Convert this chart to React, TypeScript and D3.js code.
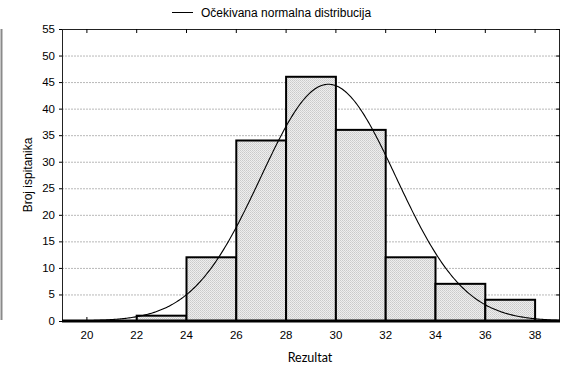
import React from "react";
import * as d3 from "d3";

const binStarts = [22, 24, 26, 28, 30, 32, 34, 36];
const binWidth = 2;
const counts = [1, 12, 34, 46, 36, 12, 7, 4];
const xTicks = [20, 22, 24, 26, 28, 30, 32, 34, 36, 38];
const yTicks = [0, 5, 10, 15, 20, 25, 30, 35, 40, 45, 50, 55];
const fitMean = 29.7;
const fitSd = 2.72;
const legendLabel = "Očekivana normalna distribucija";
const xLabel = "Rezultat";
const yLabel = "Broj ispitanika";

const W = 562, H = 369;
const L = 62, R = 560, T = 29, B = 321;

export default function App() {
  const x = d3.scaleLinear().domain([19, 39]).range([L, R]);
  const y = d3.scaleLinear().domain([0, 55]).range([B, T]);
  const n = d3.sum(counts);
  const pdf = (v: number) =>
    (n * binWidth) / (fitSd * Math.sqrt(2 * Math.PI)) *
    Math.exp(-0.5 * ((v - fitMean) / fitSd) ** 2);
  const pts = d3.range(19, 39.001, 0.05).map((v) => [v, pdf(v)] as [number, number]);
  const line = d3.line<[number, number]>().x((d) => x(d[0])).y((d) => y(d[1])).curve(d3.curveLinear);
  const font = "'Liberation Sans', Arial, sans-serif";

  return (
    <svg width={W} height={H} style={{ position: "absolute", left: 0, top: 0 }}>
      <defs>
        <pattern id="dither" width="2" height="2" patternUnits="userSpaceOnUse">
          <rect width="2" height="2" fill="#eeeeee" />
          <rect width="1" height="1" fill="#cacaca" />
          <rect x="1" y="1" width="1" height="1" fill="#d4d4d4" />
        </pattern>
      </defs>
      <rect width={W} height={H} fill="#fff" />
      <line x1={1.5} x2={1.5} y1={29} y2={320} stroke="#8a8a8a" strokeWidth={2} />
      <line x1={172} x2={193} y1={12.5} y2={12.5} stroke="#000" strokeWidth={1} />
      <text x={201} y={17} fontFamily={font} fontSize={12} fill="#000">{legendLabel}</text>
      {yTicks.filter((t) => t > 0 && t < 55).map((t) => (
        <line key={t} x1={L} x2={R} y1={y(t) + 0.5} y2={y(t) + 0.5} stroke="#b8b8b8" strokeWidth={1} strokeDasharray="2,1" />
      ))}
      {binStarts.map((s, i) => (
        <rect key={s} x={x(s)} y={y(counts[i])} width={x(s + binWidth) - x(s)} height={y(0) - y(counts[i])}
          fill="url(#dither)" stroke="#000" strokeWidth={2} />
      ))}
      <path d={line(pts) || ""} fill="none" stroke="#000" strokeWidth={1.1} />
      <rect x={L + 0.5} y={T + 0.5} width={R - L - 1} height={B - T} fill="none" stroke="#222" strokeWidth={1} />
      <line x1={L} x2={R} y1={B} y2={B} stroke="#000" strokeWidth={3} />
      {xTicks.map((t) => (
        <g key={t}>
          <line x1={x(t)} x2={x(t)} y1={T} y2={T + 4} stroke="#000" />
          <line x1={x(t)} x2={x(t)} y1={B} y2={B - 4} stroke="#000" />
          <text x={x(t)} y={B + 18} textAnchor="middle" fontFamily={font} fontSize={11.5} fill="#000">{t}</text>
        </g>
      ))}
      {yTicks.map((t) => (
        <g key={t}>
          <line x1={L - 3} x2={L} y1={y(t) + 0.5} y2={y(t) + 0.5} stroke="#000" />
          <line x1={R - 4} x2={R} y1={y(t) + 0.5} y2={y(t) + 0.5} stroke="#000" />
          <text x={55} y={y(t) + 4} textAnchor="end" fontFamily={font} fontSize={11.5} fill="#000">{t}</text>
        </g>
      ))}
      <text x={310} y={362} textAnchor="middle" fontFamily="Lato, 'Open Sans', sans-serif" fontSize={12.5} fill="#000">{xLabel}</text>
      <text transform={`translate(32,175) rotate(-90)`} textAnchor="middle" fontFamily={font} fontSize={12} fill="#000">{yLabel}</text>
    </svg>
  );
}
